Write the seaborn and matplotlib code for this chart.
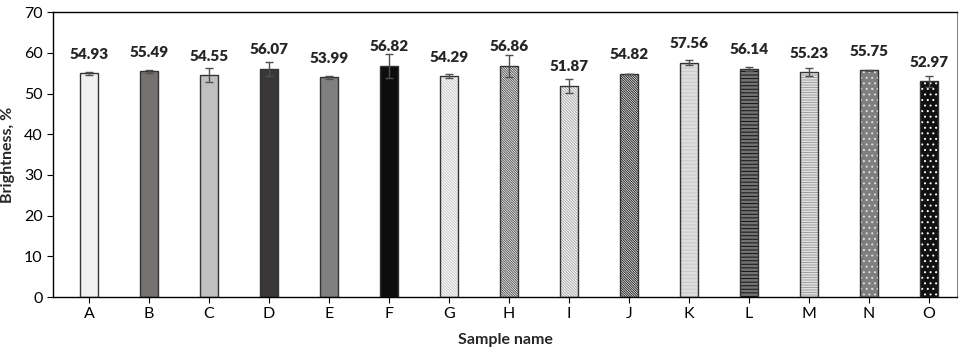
import numpy as np
import pandas as pd
import seaborn as sns
import matplotlib.pyplot as plt
from matplotlib.patches import Rectangle

# values
samples = ['A', 'B', 'C', 'D', 'E', 'F', 'G', 'H', 'I', 'J', 'K', 'L', 'M', 'N', 'O']
brightness = [54.93, 55.49, 54.55, 56.07, 53.99, 56.82, 54.29, 56.86, 51.87, 54.82,
              57.56, 56.14, 55.23, 55.75, 52.97]
errors = [0.3, 0.4, 1.7, 1.8, 0.4, 3.0, 0.5, 2.7, 1.7, 0.1, 0.6, 0.5, 1.0, 0.15, 1.3]

# fill colour, hatch pattern, hatch colour for each bar
fills = ['#f0f0f0', '#767070', '#c0c0c0', '#3a3636', '#808080', '#0d0d0d',
         'white', 'white', 'white', 'white', 'white', 'white', 'white', '#7f7f7f', '#111111']
hatches = [None, None, None, None, None, None,
           '\\' * 12, '\\' * 14, '\\' * 12, '\\' * 14,
           '-' * 12, '-' * 12, '-' * 10, '...', '...']
hatch_cols = [None] * 6 + ['#c8c8c8', '#555555', '#a8a8a8', '#222222',
                           '#c8c8c8', '#111111', '#a0a0a0', '#e0e0e0', 'white']

df = pd.DataFrame({'sample': samples, 'brightness': brightness})

sns.set_style('white')
plt.rcParams['font.family'] = ['Lato', 'DejaVu Sans']
plt.rcParams['hatch.linewidth'] = 0.7

fig = plt.figure(figsize=(9.63, 3.57), dpi=100)
ax = fig.add_axes([0.055, 0.168, 0.939, 0.798])

sns.barplot(data=df, x='sample', y='brightness', hue='sample', palette=fills,
            legend=False, errorbar=None, width=0.31, ax=ax, zorder=2)

for i, p in enumerate(ax.patches):
    if hatches[i]:
        p.set_hatch(hatches[i])
        p.set_edgecolor(hatch_cols[i])
        p.set_linewidth(0)
        ax.add_patch(Rectangle(p.get_xy(), p.get_width(), p.get_height(),
                               fill=False, edgecolor='#333333', linewidth=1.0, zorder=3))
    else:
        p.set_edgecolor('#333333')
        p.set_linewidth(1.0)

    cx = p.get_x() + p.get_width() / 2
    ax.errorbar(cx, brightness[i], yerr=errors[i], color='#505050', capsize=3,
                elinewidth=1, capthick=1, zorder=4)
    ax.annotate(f'{brightness[i]:.2f}', (cx, brightness[i]), xytext=(0, 9),
                textcoords='offset points', ha='center', va='bottom',
                fontsize=11, fontweight='heavy')

ax.set_ylim(0, 70)
ax.set_xlim(-0.6, 14.47)
ax.set_yticks(range(0, 71, 10))
ax.tick_params(axis='both', labelsize=11.5, length=4, width=0.8, direction='out',
               bottom=True, left=True, colors='black')
ax.set_xlabel('Sample name', fontsize=11.5, fontweight='bold', labelpad=8)
ax.set_ylabel('Brightness, %', fontsize=11.5, fontweight='bold', labelpad=6)

for side in ['left', 'bottom', 'top']:
    ax.spines[side].set_color('black')
    ax.spines[side].set_linewidth(1.0)
ax.spines['right'].set_color('#888888')
ax.spines['right'].set_linewidth(0.8)

plt.savefig('out.png', dpi=100)
